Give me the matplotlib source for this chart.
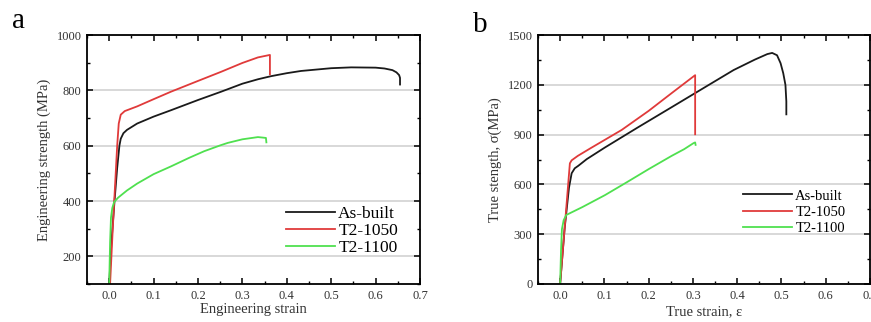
import matplotlib
matplotlib.use("Agg")
import matplotlib.pyplot as plt
from matplotlib.ticker import MultipleLocator

plt.rcParams['font.family'] = ['Liberation Serif', 'DejaVu Serif']

# panel a: engineering stress-strain
eng_built_x = [0.0, 0.005, 0.012, 0.018, 0.023, 0.026, 0.032, 0.04, 0.063, 0.1, 0.139, 0.2,
               0.252, 0.3, 0.335, 0.364, 0.4, 0.432, 0.5, 0.545, 0.6, 0.62, 0.638, 0.647, 0.653, 0.655, 0.655]
eng_built_y = [100, 250, 400, 520, 600, 625, 645, 657, 680, 705, 728, 765,
               795, 824, 840, 851, 862, 870, 880, 883, 882, 879, 873, 865, 855, 845, 821]
eng_1050_x = [0.002, 0.008, 0.012, 0.018, 0.0215, 0.026, 0.035, 0.063, 0.1, 0.139, 0.2,
              0.252, 0.3, 0.335, 0.362, 0.362]
eng_1050_y = [100, 300, 420, 600, 680, 712, 725, 742, 768, 795, 834, 867, 899, 919, 928, 858]
eng_1100_x = [0.0, 0.002, 0.004, 0.007, 0.011, 0.02, 0.04, 0.063, 0.1, 0.139, 0.18, 0.214,
              0.25, 0.267, 0.3, 0.335, 0.353, 0.354]
eng_1100_y = [100, 250, 340, 375, 396, 412, 438, 463, 497, 525, 556, 580,
              601, 610, 623, 631, 628, 612]

# panel b: true stress-strain
true_built_x = [0.0, 0.01, 0.02, 0.026, 0.033, 0.041, 0.06, 0.101, 0.176, 0.25, 0.305, 0.335,
                0.392, 0.44, 0.468, 0.479, 0.49, 0.498, 0.504, 0.509, 0.511, 0.511]
true_built_y = [0, 330, 580, 667, 697, 712, 752, 822, 944, 1062, 1150, 1198,
                1289, 1352, 1385, 1392, 1378, 1330, 1270, 1199, 1100, 1022]
true_1050_x = [0.0, 0.01, 0.022, 0.026, 0.04, 0.07, 0.139, 0.2, 0.252, 0.305, 0.305]
true_1050_y = [0, 330, 727, 745, 772, 820, 928, 1043, 1150, 1258, 902]
true_1100_x = [0.0, 0.002, 0.004, 0.008, 0.014, 0.05, 0.101, 0.15, 0.2, 0.252, 0.28, 0.301, 0.305, 0.306]
true_1100_y = [0, 200, 330, 385, 416, 463, 535, 612, 692, 772, 812, 848, 853, 838]

labels = ['As-built', 'T2-1050', 'T2-1100']
colors = ['#1a1a1a', '#e03a3a', '#4fe04f']

fig = plt.figure(figsize=(8.71, 3.22), dpi=100)
ax_a = fig.add_axes([87 / 871, 38 / 322, 333 / 871, 249 / 322])
ax_b = fig.add_axes([538 / 871, 38 / 322, 332 / 871, 249 / 322])


def style(ax):
    ax.set_axisbelow(True)
    ax.yaxis.grid(True, color='#d6d6d6', lw=1.3)
    for s in ax.spines.values():
        s.set_linewidth(1.3)
    ax.tick_params(which='both', direction='in', top=True, right=True,
                   labelsize=9, labelcolor='#333333', pad=4)
    ax.tick_params(which='major', length=4, width=1.1)
    ax.tick_params(which='minor', length=2.5, width=1.0)
    ax.xaxis.set_major_locator(MultipleLocator(0.1))
    ax.xaxis.set_minor_locator(MultipleLocator(0.05))
    ax.set_xlim(-0.05, 0.7)


series_a = [(eng_built_x, eng_built_y), (eng_1050_x, eng_1050_y), (eng_1100_x, eng_1100_y)]
for (x, y), c, lab in zip(series_a, colors, labels):
    ax_a.plot(x, y, color=c, lw=1.3, label=lab)
style(ax_a)
ax_a.set_ylim(100, 1000)
ax_a.yaxis.set_major_locator(MultipleLocator(200))
ax_a.yaxis.set_minor_locator(MultipleLocator(100))
ax_a.set_yticks([200, 400, 600, 800, 1000])
ax_a.set_xlabel('Engineering strain', fontsize=10.5, color='#333333', labelpad=1)
ax_a.set_ylabel('Engineering strength (MPa)', fontsize=10.5, color='#333333', labelpad=4)
ax_a.legend(loc='upper left', bbox_to_anchor=(0.598, 0.315), frameon=False, fontsize=12.5,
            handlelength=2.8, handletextpad=0.2, labelspacing=0.05, borderpad=0, borderaxespad=0)

series_b = [(true_built_x, true_built_y), (true_1050_x, true_1050_y), (true_1100_x, true_1100_y)]
for (x, y), c, lab in zip(series_b, colors, labels):
    ax_b.plot(x, y, color=c, lw=1.3, label=lab)
style(ax_b)
ax_b.set_ylim(0, 1500)
ax_b.yaxis.set_major_locator(MultipleLocator(300))
ax_b.yaxis.set_minor_locator(MultipleLocator(150))
ax_b.set_xlabel('True strain, ε', fontsize=10.5, color='#333333', labelpad=2.5)
ax_b.set_ylabel('True stength, σ(MPa)', fontsize=10.5, color='#333333', labelpad=4)
ax_b.legend(loc='upper left', bbox_to_anchor=(0.617, 0.38), frameon=False, fontsize=10.5,
            handlelength=3.4, handletextpad=0.2, labelspacing=0.22, borderpad=0, borderaxespad=0)

fig.text(12 / 871, 1 - 28.5 / 322, 'a', fontsize=21, va='baseline', ha='left')
fig.text(473 / 871, 1 - 31.5 / 322, 'b', fontsize=21, va='baseline', ha='left')

fig.savefig('out.png', dpi=100)
